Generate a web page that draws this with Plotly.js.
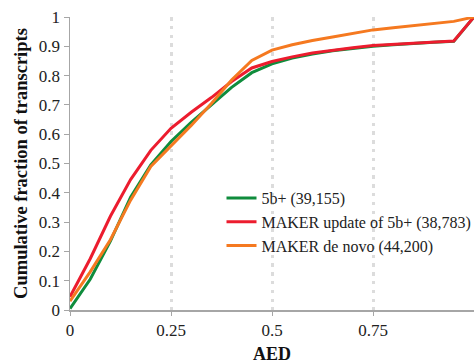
<!DOCTYPE html>
<html>
<head>
<meta charset="utf-8">
<script src="https://cdn.plot.ly/plotly-3.0.1.min.js"></script>
<style>html,body{margin:0;padding:0;background:#fff;}#chart{width:474px;height:364px;}</style>
</head>
<body>
<div id="chart"></div>
<script>
const aed = [0,0.05,0.1,0.15,0.2,0.25,0.3,0.35,0.4,0.45,0.5,0.55,0.6,0.65,0.7,0.75,0.8,0.85,0.9,0.95,1];
const green5b = [0.005,0.105,0.235,0.385,0.495,0.575,0.64,0.70,0.76,0.81,0.84,0.86,0.874,0.885,0.893,0.9,0.905,0.91,0.914,0.917,1.0];
const redUpdate = [0.045,0.175,0.32,0.445,0.545,0.62,0.675,0.725,0.78,0.826,0.848,0.864,0.877,0.887,0.895,0.903,0.907,0.911,0.914,0.918,1.0];
const orangeDenovo = [0.03,0.13,0.24,0.375,0.49,0.56,0.63,0.705,0.785,0.852,0.887,0.905,0.92,0.932,0.945,0.956,0.963,0.971,0.977,0.985,1.0];
const seriesNames = ["5b+ (39,155)","MAKER update of 5b+ (38,783)","MAKER de novo (44,200)"];
const xTicks = [0,0.25,0.5,0.75,1];
const xTickText = ["0","0.25","0.5","0.75","1"];
const yTicks = [0,0.1,0.2,0.3,0.4,0.5,0.6,0.7,0.8,0.9,1];
const yTickText = ["0","0.1","0.2","0.3","0.4","0.5","0.6","0.7","0.8","0.9","1"];

const font = "Liberation Serif, Times New Roman, serif";
const traces = [
  {x: aed, y: green5b, name: seriesNames[0], mode: "lines", line: {color: "#0f8c3c", width: 3}},
  {x: aed, y: redUpdate, name: seriesNames[1], mode: "lines", line: {color: "#ec1c2e", width: 3}},
  {x: aed, y: orangeDenovo, name: seriesNames[2], mode: "lines", line: {color: "#f57920", width: 3}}
];
const layout = {
  width: 474, height: 364,
  margin: {l: 70, r: 0, t: 17, b: 54, autoexpand: false},
  paper_bgcolor: "#fff", plot_bgcolor: "#fff",
  font: {family: font, size: 16, color: "#222"},
  showlegend: true,
  legend: {x: 0.375, y: 0.30, xanchor: "left", yanchor: "middle", bgcolor: "rgba(0,0,0,0)",
           font: {family: font, size: 16, color: "#222"}, tracegroupgap: 0},
  xaxis: {
    range: [0, 1], tickvals: xTicks, ticktext: xTickText,
    showline: true, linecolor: "#a6a6a6", linewidth: 1.5,
    ticks: "outside", ticklen: 4, tickcolor: "#a6a6a6",
    showgrid: true, gridcolor: "#dcdcdc", gridwidth: 3, griddash: "3.5px,5.3px",
    zeroline: false, automargin: false,
    tickfont: {family: font, size: 17, color: "#222"},
    title: {text: "<b>AED</b>", font: {family: font, size: 18, color: "#111"}, standoff: 14}
  },
  yaxis: {
    range: [0, 1], tickvals: yTicks, ticktext: yTickText,
    showline: true, linecolor: "#a6a6a6", linewidth: 1.5,
    ticks: "outside", ticklen: 5, tickcolor: "#a6a6a6",
    showgrid: false, zeroline: false, automargin: false,
    tickfont: {family: font, size: 17, color: "#222"},
    title: {text: "<b>Cumulative fraction of transcripts</b>", font: {family: font, size: 18.5, color: "#111"}, standoff: 6}
  }
};
Plotly.newPlot("chart", traces, layout, {displayModeBar: false, staticPlot: true});
</script>
</body>
</html>
